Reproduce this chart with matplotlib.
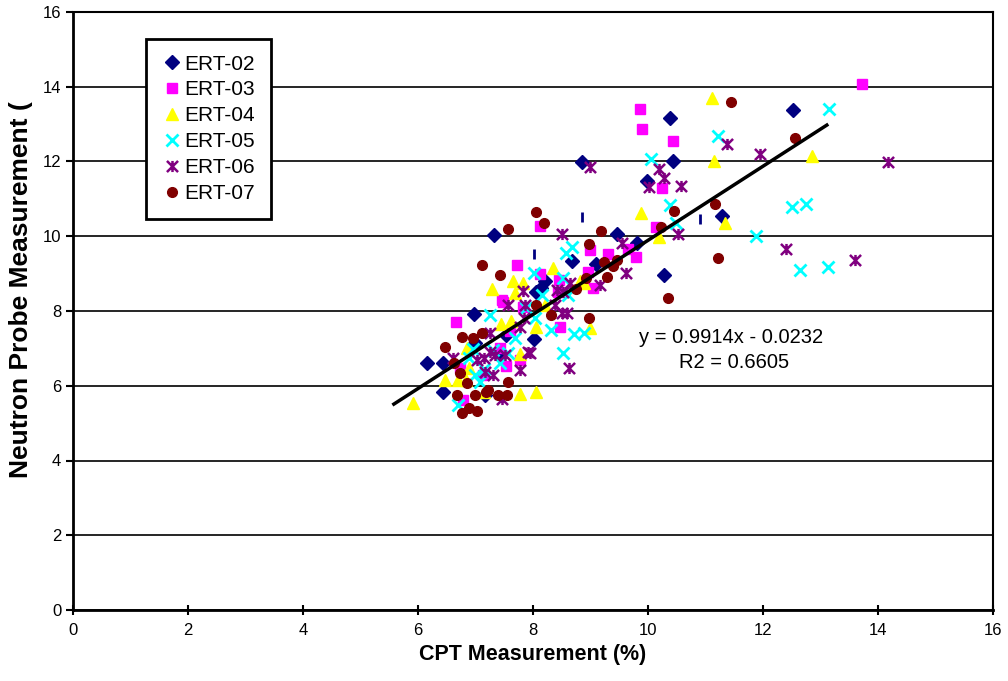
import matplotlib
matplotlib.use("Agg")
import matplotlib.pyplot as plt
from matplotlib.path import Path

plt.rcParams['font.family'] = ['Liberation Sans', 'DejaVu Sans']

# CPT (%) vs neutron probe readings for each ERT line
ert02_x = [12.53, 10.39, 10.44, 8.85, 9.99, 7.33, 9.46, 11.29, 9.80, 9.09, 10.27, 8.67,
           8.21, 8.14, 8.05, 6.98, 7.53, 8.02, 6.15, 6.44, 6.43, 7.17, 7.45, 7.00]
ert02_y = [13.39, 13.17, 12.02, 11.98, 11.48, 10.03, 10.06, 10.55, 9.82, 9.26, 8.96, 9.35,
           8.79, 8.61, 8.52, 7.92, 7.36, 7.25, 6.60, 6.60, 5.84, 5.75, 6.85, 7.15]

ert03_x = [13.72, 9.86, 9.89, 10.43, 10.24, 10.14, 8.12, 8.99, 9.30, 9.66, 9.79, 8.96,
           9.05, 7.73, 8.12, 8.46, 8.44, 7.46, 7.47, 7.83, 6.66, 7.60, 8.47, 7.43,
           7.53, 6.73, 6.78, 7.77, 7.13]
ert03_y = [14.07, 13.40, 12.87, 12.56, 11.28, 10.26, 10.27, 9.63, 9.52, 9.66, 9.44, 9.05,
           8.61, 9.23, 8.98, 8.84, 8.52, 8.29, 8.23, 8.10, 7.70, 7.46, 7.58, 7.02,
           6.53, 6.47, 5.62, 6.69, 6.30]

ert04_x = [11.12, 11.15, 12.85, 9.88, 11.34, 10.19, 8.89, 8.35, 8.81, 7.28, 7.66, 7.83,
           7.69, 8.21, 7.44, 7.62, 8.05, 8.99, 6.85, 7.77, 6.89, 6.47, 6.83, 7.14,
           7.77, 8.06, 5.91, 6.70]
ert04_y = [13.69, 12.02, 12.16, 10.63, 10.36, 9.99, 8.76, 9.14, 8.79, 8.59, 8.79, 8.76,
           8.47, 8.16, 7.64, 7.73, 7.58, 7.54, 7.02, 6.84, 6.48, 6.15, 6.15, 5.84,
           5.77, 5.84, 5.53, 6.15]

ert05_x = [13.15, 11.21, 10.06, 10.38, 10.49, 11.87, 12.50, 12.74, 12.64, 13.13, 8.68, 8.57,
           8.01, 8.52, 8.15, 8.61, 7.88, 8.03, 7.26, 8.31, 8.72, 8.88, 7.69, 8.52,
           6.96, 7.57, 6.89, 7.43, 6.99, 7.08, 6.70, 7.15, 7.30]
ert05_y = [13.41, 12.69, 12.06, 10.84, 10.36, 10.02, 10.77, 10.85, 9.10, 9.19, 9.70, 9.54,
           9.03, 8.87, 8.43, 8.43, 8.07, 7.80, 7.89, 7.50, 7.38, 7.40, 7.27, 6.88,
           6.98, 6.87, 6.75, 6.60, 6.29, 6.11, 5.48, 6.45, 6.95]

ert06_x = [11.37, 11.95, 8.99, 10.20, 10.28, 10.02, 10.57, 10.52, 8.50, 9.55, 9.62, 9.17,
           14.17, 12.40, 13.60, 7.83, 8.41, 8.53, 8.64, 7.57, 7.86, 8.38, 8.50, 8.59,
           7.77, 7.85, 7.25, 7.95, 8.63, 7.25, 7.51, 6.61, 7.14, 7.34, 7.91, 7.77,
           7.17, 7.31, 7.46, 7.02]
ert06_y = [12.47, 12.20, 11.84, 11.80, 11.55, 11.33, 11.35, 10.05, 10.06, 9.83, 9.03, 8.70,
           11.99, 9.66, 9.36, 8.54, 8.56, 8.52, 8.76, 8.16, 8.16, 8.16, 7.94, 7.94,
           7.58, 7.80, 7.40, 6.88, 6.47, 6.89, 6.82, 6.75, 6.73, 6.82, 6.89, 6.42,
           6.38, 6.29, 5.65, 6.69]

ert07_x = [11.44, 12.55, 11.17, 10.46, 10.23, 9.19, 8.97, 9.23, 9.46, 9.39, 11.21, 9.28,
           8.92, 10.35, 8.06, 8.19, 7.56, 7.11, 7.43, 8.75, 8.06, 8.32, 8.97, 6.96,
           7.11, 6.76, 6.47, 6.63, 6.73, 6.86, 7.57, 6.68, 6.99, 7.19, 7.40, 7.54,
           6.76, 6.89, 7.02, 7.22]
ert07_y = [13.59, 12.64, 10.87, 10.68, 10.26, 10.15, 9.79, 9.31, 9.36, 9.21, 9.43, 8.92,
           8.89, 8.36, 10.66, 10.36, 10.19, 9.23, 8.96, 8.58, 8.16, 7.88, 7.82, 7.27,
           7.40, 7.31, 7.03, 6.60, 6.33, 6.07, 6.09, 5.75, 5.75, 5.84, 5.75, 5.75,
           5.26, 5.40, 5.32, 5.89]

# stray short ticks left by the ERT-02 series
ert02_tick_x = [8.86, 10.90, 8.02]
ert02_tick_y = [10.52, 10.47, 9.52]

slope = 0.9914
intercept = -0.0232
r2 = 0.6605
fit_x = [5.58, 13.11]

# Excel-style star: an X with a vertical stroke
star = Path([(-1, -1), (1, 1), (-1, 1), (1, -1), (0, -1), (0, 1)],
            [Path.MOVETO, Path.LINETO, Path.MOVETO, Path.LINETO, Path.MOVETO, Path.LINETO])

W, H = 1008, 681
fig = plt.figure(figsize=(W / 100, H / 100), dpi=100)
ax = fig.add_axes([73 / W, 71 / H, 920 / W, 598 / H])

ax.plot(ert02_x, ert02_y, 'D', color='#000080', ms=7, mec='#000080', ls='none', label='ERT-02')
ax.plot(ert03_x, ert03_y, 's', color='#FF00FF', ms=7, mec='#FF00FF', ls='none', label='ERT-03')
ax.plot(ert04_x, ert04_y, '^', color='#FFFF00', ms=8, mec='#FFFF00', ls='none', label='ERT-04')
ax.plot(ert05_x, ert05_y, 'x', color='#00FFFF', ms=8, mew=2, ls='none', label='ERT-05')
ax.plot(ert06_x, ert06_y, marker=star, color='#800080', ms=8, mew=1.8, ls='none', label='ERT-06')
ax.plot(ert07_x, ert07_y, 'o', color='#800000', ms=7, mec='#800000', ls='none', label='ERT-07')
ax.plot(ert02_tick_x, ert02_tick_y, '|', color='#000080', ms=7, mew=2, ls='none')

fit_y = [slope * x + intercept for x in fit_x]
ax.plot(fit_x, fit_y, color='black', lw=2.5)

# equation block, placed in pixels from the top-left corner
fig.text(731 / W, 1 - 337 / H, 'y = %.4fx - %.4f' % (slope, -intercept),
         ha='center', va='center', fontsize=14.5)
fig.text(734 / W, 1 - 362 / H, 'R2 = %.4f' % r2,
         ha='center', va='center', fontsize=14.5)

ax.set_xlim(0, 16)
ax.set_ylim(0, 16)
ax.set_xticks(range(0, 17, 2))
ax.set_yticks(range(0, 17, 2))
ax.yaxis.grid(True, color='black', lw=1.2)
ax.set_axisbelow(True)
ax.tick_params(axis='both', labelsize=12, direction='out', length=5, width=1.5, colors='black')
ax.tick_params(axis='x', direction='inout', length=7, pad=6)
for side in ['left', 'bottom']:
    ax.spines[side].set_linewidth(2)
for side in ['top', 'right']:
    ax.spines[side].set_linewidth(1.5)

ax.set_xlabel('CPT Measurement (%)', fontsize=15.5, fontweight='bold', labelpad=4)
fig.text(21 / W, 1 - 478 / H, 'Neutron Probe Measurement (', rotation=90,
         ha='center', va='bottom', fontsize=19, fontweight='bold')

leg = ax.legend(loc='upper left', bbox_to_anchor=((146 - 73) / 920, 1 - (39 - 12) / 598),
                borderaxespad=0, fontsize=15, frameon=True, fancybox=False,
                edgecolor='black', framealpha=1, handlelength=1.0, handletextpad=0.1,
                labelspacing=0.33, borderpad=0.75)
leg.get_frame().set_linewidth(2)

fig.savefig('out.png', dpi=100)
